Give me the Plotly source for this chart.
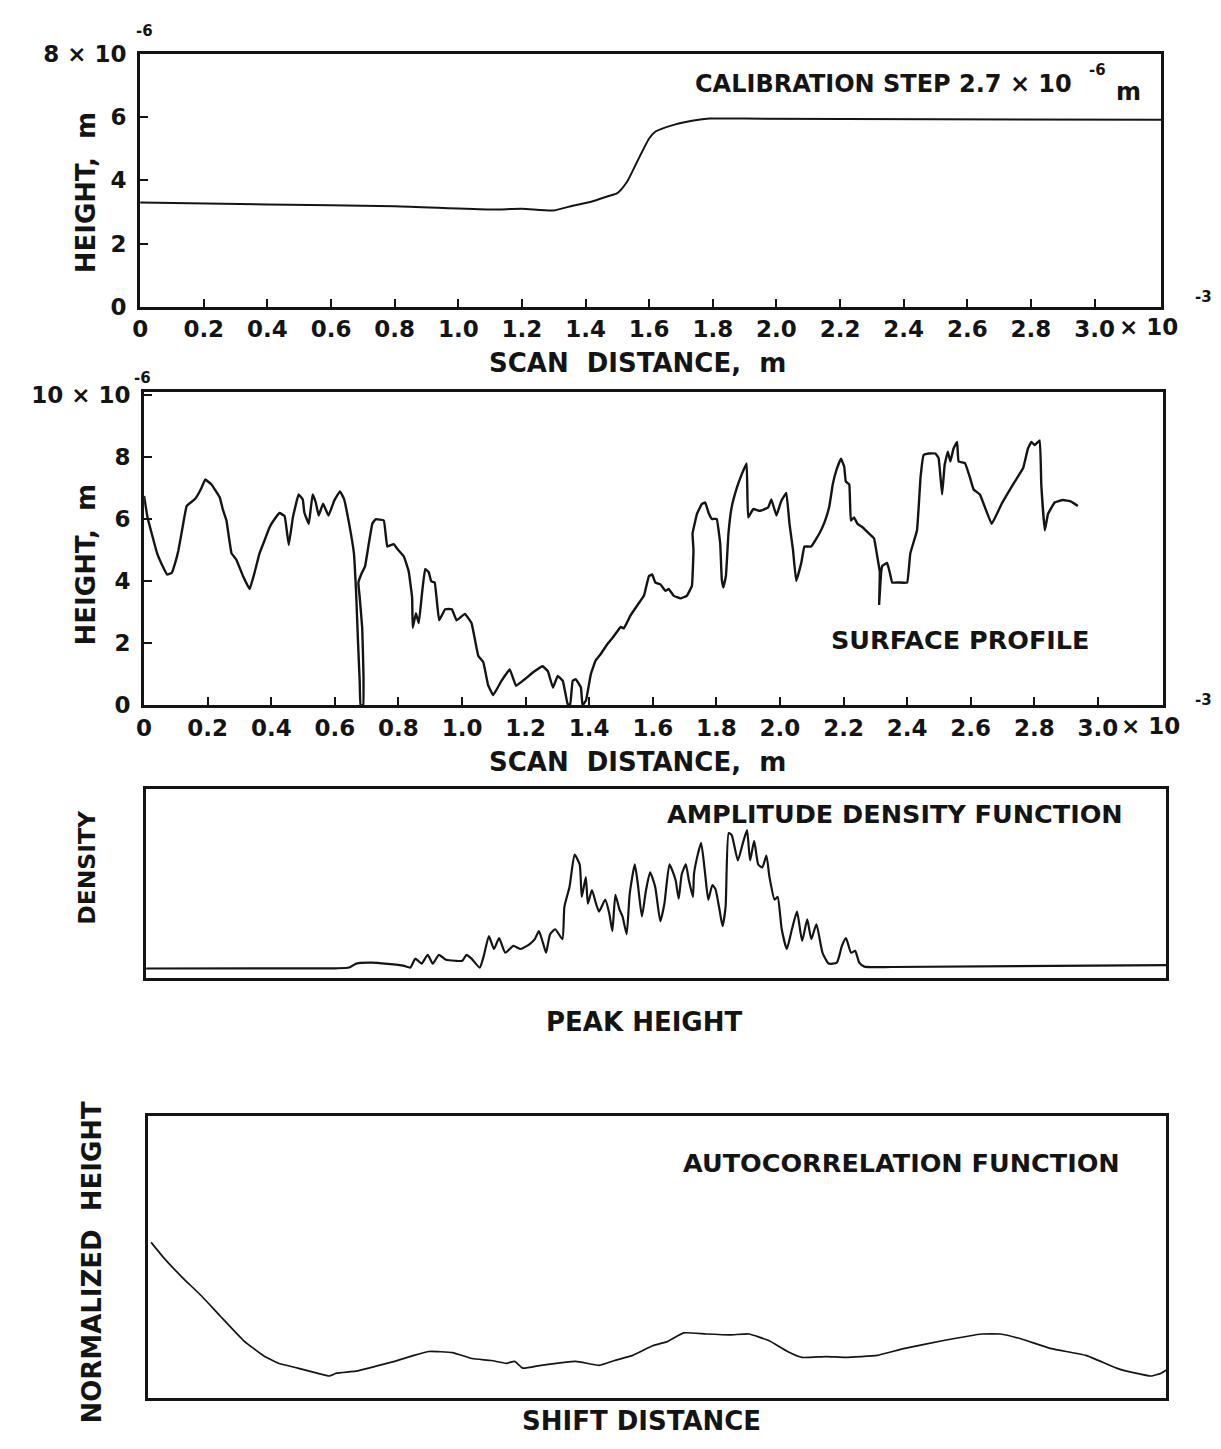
import plotly.graph_objects as go

# ---------------------------------------------------------------------------
# Data
# ---------------------------------------------------------------------------
# Calibration trace: scan distance (x 1e-3 m) vs height (x 1e-6 m)
cal_x = [0.00, 0.40, 0.80, 1.10, 1.20, 1.30, 1.36, 1.42, 1.47, 1.50, 1.53,
         1.56, 1.60, 1.62, 1.68, 1.74, 1.79, 1.90, 2.50, 3.21]
cal_h = [3.30, 3.24, 3.18, 3.08, 3.10, 3.05, 3.20, 3.33, 3.50, 3.60, 3.95,
         4.55, 5.33, 5.55, 5.77, 5.90, 5.96, 5.96, 5.94, 5.92]

# Surface profile: scan distance (x 1e-3 m) vs height (x 1e-6 m)
prof_x = [0.000, 0.010, 0.025, 0.041, 0.060, 0.072, 0.087, 0.098, 0.108, 0.122,
          0.134, 0.160, 0.180, 0.192, 0.212, 0.238, 0.248, 0.259, 0.275, 0.290,
          0.311, 0.332, 0.348, 0.363, 0.380, 0.395, 0.410, 0.426, 0.442, 0.455,
          0.468, 0.486, 0.499, 0.504, 0.518, 0.530, 0.540, 0.549, 0.563, 0.580,
          0.598, 0.616, 0.629, 0.645, 0.660, 0.667, 0.673, 0.678, 0.681, 0.689,
          0.690, 0.686, 0.678, 0.674, 0.684, 0.695, 0.705, 0.718, 0.728, 0.754,
          0.765, 0.785, 0.796, 0.817, 0.832, 0.843, 0.845, 0.855, 0.864, 0.874,
          0.884, 0.895, 0.903, 0.914, 0.928, 0.947, 0.968, 0.983, 1.009, 1.030,
          1.051, 1.067, 1.082, 1.098, 1.124, 1.150, 1.170, 1.197, 1.228, 1.254,
          1.270, 1.286, 1.301, 1.317, 1.332, 1.340, 1.348, 1.358, 1.374, 1.379,
          1.390, 1.405, 1.420, 1.436, 1.457, 1.473, 1.488, 1.499, 1.509, 1.530,
          1.551, 1.572, 1.588, 1.598, 1.608, 1.624, 1.640, 1.650, 1.666, 1.687,
          1.707, 1.723, 1.728, 1.725, 1.739, 1.754, 1.765, 1.775, 1.786, 1.801,
          1.812, 1.817, 1.822, 1.830, 1.838, 1.848, 1.864, 1.879, 1.895, 1.900,
          1.916, 1.937, 1.963, 1.973, 1.989, 2.004, 2.020, 2.030, 2.041, 2.051,
          2.067, 2.077, 2.098, 2.124, 2.140, 2.155, 2.166, 2.178, 2.192, 2.202,
          2.207, 2.218, 2.223, 2.233, 2.244, 2.259, 2.275, 2.296, 2.306, 2.314,
          2.312, 2.318, 2.322, 2.337, 2.345, 2.353, 2.374, 2.400, 2.410, 2.431,
          2.437, 2.442, 2.452, 2.468, 2.489, 2.499, 2.510, 2.518, 2.528, 2.536,
          2.546, 2.557, 2.562, 2.582, 2.598, 2.609, 2.629, 2.666, 2.697, 2.739,
          2.765, 2.780, 2.791, 2.801, 2.817, 2.822, 2.833, 2.843, 2.864, 2.890,
          2.916, 2.937]
prof_h = [6.75, 6.10, 5.50, 4.90, 4.45, 4.22, 4.27, 4.60, 5.00, 5.80,
          6.43, 6.65, 7.00, 7.28, 7.12, 6.70, 6.30, 5.96, 4.90, 4.70,
          4.17, 3.75, 4.30, 4.90, 5.35, 5.75, 6.00, 6.20, 6.10, 5.17,
          6.06, 6.80, 6.64, 6.22, 5.85, 6.80, 6.54, 6.12, 6.50, 6.12,
          6.60, 6.90, 6.65, 5.85, 4.90, 3.60, 2.00, 0.80, 0.00, 0.00,
          1.00, 2.50, 3.50, 3.95, 4.25, 4.48, 5.10, 5.86, 6.00, 5.96,
          5.12, 5.20, 5.05, 4.80, 4.33, 3.48, 2.50, 2.97, 2.65, 3.60,
          4.39, 4.30, 4.00, 3.96, 2.74, 3.10, 3.10, 2.74, 2.95, 2.65,
          1.60, 1.39, 0.65, 0.33, 0.79, 1.16, 0.63, 0.84, 1.10, 1.26,
          1.10, 0.57, 0.95, 0.79, 0.05, 0.00, 0.79, 0.84, 0.57, 0.00,
          0.16, 1.00, 1.44, 1.65, 1.97, 2.17, 2.38, 2.53, 2.48, 2.90,
          3.22, 3.53, 4.17, 4.22, 3.96, 3.90, 3.69, 3.75, 3.53, 3.45,
          3.53, 3.85, 5.01, 5.54, 6.17, 6.49, 6.54, 6.22, 6.01, 6.01,
          5.22, 4.06, 3.80, 4.17, 5.54, 6.38, 7.00, 7.43, 7.80, 6.06,
          6.33, 6.27, 6.38, 6.64, 6.12, 6.59, 6.85, 5.85, 5.01, 4.01,
          4.59, 5.12, 5.12, 5.54, 5.90, 6.40, 7.12, 7.60, 7.95, 7.70,
          7.22, 7.12, 5.96, 6.06, 5.85, 5.75, 5.59, 5.38, 4.80, 4.30,
          3.27, 4.27, 4.50, 4.59, 4.30, 3.96, 3.96, 3.96, 4.90, 5.64,
          6.50, 7.33, 8.07, 8.12, 8.12, 7.97, 6.80, 7.75, 8.18, 7.86,
          8.28, 8.49, 7.86, 7.81, 7.33, 6.96, 6.80, 5.85, 6.49, 7.22,
          7.65, 8.28, 8.49, 8.39, 8.54, 7.12, 5.64, 6.17, 6.54, 6.62,
          6.57, 6.43]

# Amplitude density: peak height (% of range) vs relative density
dens_h = [0.0, 18.6, 19.9, 20.6, 22.1, 25.2, 25.9, 26.4, 27.0, 27.6,
          28.1, 28.7, 29.4, 30.3, 31.0, 31.4, 31.9, 32.7, 33.1, 33.6,
          34.1, 34.6, 35.2, 36.0, 36.7, 37.6, 38.1, 38.5, 38.9, 39.2,
          39.6, 40.1, 40.8, 41.0, 41.5, 42.0, 42.5, 42.7, 43.1, 43.3,
          43.7, 44.1, 44.4, 45.0, 45.4, 45.7, 46.0, 46.4, 46.7, 47.1,
          47.4, 47.9, 48.2, 48.6, 49.0, 49.4, 49.9, 50.4, 50.8, 51.3,
          51.9, 52.2, 52.5, 52.9, 53.2, 53.6, 53.7, 54.0, 54.4, 54.8,
          55.1, 55.5, 55.8, 56.2, 56.5, 56.8, 57.1, 57.4, 58.0, 58.5,
          58.9, 59.2, 59.6, 60.0, 60.4, 60.8, 61.1, 61.6, 61.9, 62.3,
          62.8, 63.3, 63.8, 64.3, 64.8, 65.2, 65.7, 66.3, 66.9, 67.7,
          68.2, 68.6, 69.1, 69.5, 69.9, 70.4, 73.1, 100.0]
dens_v = [0.052, 0.053, 0.057, 0.078, 0.083, 0.067, 0.057, 0.104, 0.078, 0.124,
          0.078, 0.124, 0.098, 0.093, 0.093, 0.124, 0.104, 0.057, 0.119, 0.223,
          0.155, 0.212, 0.135, 0.171, 0.155, 0.181, 0.207, 0.249, 0.187, 0.135,
          0.233, 0.259, 0.207, 0.378, 0.482, 0.653, 0.601, 0.430, 0.534, 0.394,
          0.466, 0.394, 0.352, 0.415, 0.342, 0.249, 0.440, 0.363, 0.326, 0.233,
          0.446, 0.601, 0.497, 0.326, 0.466, 0.560, 0.482, 0.301, 0.394, 0.601,
          0.518, 0.420, 0.549, 0.601, 0.518, 0.430, 0.549, 0.637, 0.715, 0.549,
          0.415, 0.492, 0.472, 0.363, 0.275, 0.378, 0.767, 0.756, 0.622, 0.715,
          0.782, 0.622, 0.725, 0.601, 0.585, 0.648, 0.534, 0.415, 0.430, 0.259,
          0.155, 0.259, 0.352, 0.197, 0.311, 0.207, 0.285, 0.135, 0.078, 0.083,
          0.171, 0.212, 0.135, 0.145, 0.083, 0.062, 0.060, 0.070]

# Autocorrelation: shift distance (fraction of record) vs normalized height
acf_s = [0.003, 0.015, 0.033, 0.053, 0.071, 0.094, 0.113, 0.128, 0.147, 0.166,
         0.178, 0.185, 0.204, 0.223, 0.242, 0.261, 0.276, 0.299, 0.318, 0.337,
         0.352, 0.360, 0.368, 0.386, 0.420, 0.443, 0.458, 0.476, 0.496, 0.510,
         0.526, 0.548, 0.572, 0.590, 0.610, 0.628, 0.642, 0.666, 0.685, 0.716,
         0.742, 0.780, 0.819, 0.837, 0.857, 0.887, 0.921, 0.951, 0.970, 0.985,
         0.995, 1.000]
acf_v = [0.551, 0.498, 0.429, 0.359, 0.289, 0.202, 0.150, 0.122, 0.105, 0.087,
         0.077, 0.087, 0.094, 0.111, 0.129, 0.150, 0.164, 0.160, 0.139, 0.132,
         0.122, 0.129, 0.105, 0.115, 0.129, 0.115, 0.132, 0.150, 0.185, 0.199,
         0.230, 0.226, 0.223, 0.226, 0.202, 0.164, 0.143, 0.146, 0.143, 0.150,
         0.174, 0.202, 0.226, 0.226, 0.209, 0.174, 0.150, 0.105, 0.087, 0.077,
         0.087, 0.098]

dist_ticks = [0.0, 0.2, 0.4, 0.6, 0.8, 1.0, 1.2, 1.4, 1.6, 1.8, 2.0, 2.2,
              2.4, 2.6, 2.8, 3.0]
dist_labels = ["0", "0.2", "0.4", "0.6", "0.8", "1.0", "1.2", "1.4", "1.6",
               "1.8", "2.0", "2.2", "2.4", "2.6", "2.8", "3.0"]
cal_ticks = [0, 2, 4, 6, 8]
cal_labels = ["0", "2", "4", "6", "8 \u00d7 10"]
prof_ticks = [0, 2, 4, 6, 8, 10]
prof_labels = ["0", "2", "4", "6", "8", "10 \u00d7 10"]

# ---------------------------------------------------------------------------
# Layout helpers (page is 1221 x 1449 px, positions given in px)
# ---------------------------------------------------------------------------
W, H = 1221, 1449
FAMILY = "DejaVu Sans"
INK = "#141414"


def fx(p):
    return p / W


def fy(p):
    return 1 - p / H


def font(size):
    return dict(family=FAMILY, size=size, color=INK, weight="bold")


frame = dict(showline=True, linewidth=3, linecolor=INK, mirror=True,
             showgrid=False, zeroline=False, fixedrange=True)

fig = go.Figure()
fig.add_trace(go.Scatter(x=cal_x, y=cal_h, mode="lines",
                         line=dict(color=INK, width=2, shape="spline",
                                   smoothing=0.6),
                         xaxis="x", yaxis="y", hoverinfo="skip"))
fig.add_trace(go.Scatter(x=prof_x, y=prof_h, mode="lines",
                         line=dict(color=INK, width=2.4, shape="spline",
                                   smoothing=0.25),
                         xaxis="x2", yaxis="y2", hoverinfo="skip"))
fig.add_trace(go.Scatter(x=dens_h, y=dens_v, mode="lines",
                         line=dict(color=INK, width=2.2, shape="spline",
                                   smoothing=0.5),
                         xaxis="x3", yaxis="y3", hoverinfo="skip"))
fig.add_trace(go.Scatter(x=acf_s, y=acf_v, mode="lines",
                         line=dict(color=INK, width=1.7, shape="spline",
                                   smoothing=0.4),
                         xaxis="x4", yaxis="y4", hoverinfo="skip"))

tick_common = dict(ticks="inside", ticklen=8, tickwidth=2, tickcolor=INK,
                   tickfont=font(23))

fig.update_layout(
    width=W, height=H,
    margin=dict(l=0, r=0, t=0, b=0),
    paper_bgcolor="white", plot_bgcolor="white",
    showlegend=False,
    xaxis=dict(domain=[fx(133), fx(1161)], anchor="y", range=[0, 3.21],
               tickmode="array", tickvals=dist_ticks, ticktext=dist_labels,
               ticklabelstandoff=0, **tick_common, **frame),
    yaxis=dict(domain=[fy(299), fy(42)], anchor="x", range=[0, 8],
               tickmode="array", tickvals=cal_ticks, ticktext=cal_labels,
               ticklabelstandoff=6, **tick_common, **frame),
    xaxis2=dict(domain=[fx(137), fx(1163)], anchor="y2", range=[0, 3.206],
                tickmode="array", tickvals=dist_ticks, ticktext=dist_labels,
                ticklabelstandoff=0, **tick_common, **frame),
    yaxis2=dict(domain=[fy(705), fy(386)], anchor="x2", range=[0, 10.1],
                tickmode="array", tickvals=prof_ticks, ticktext=prof_labels,
                ticklabelstandoff=6, **tick_common, **frame),
    xaxis3=dict(domain=[fx(139), fx(1166)], anchor="y3", range=[0, 100],
                showticklabels=False, ticks="", **frame),
    yaxis3=dict(domain=[fy(983), fy(790)], anchor="x3", range=[0, 1],
                showticklabels=False, ticks="", **frame),
    xaxis4=dict(domain=[fx(141), fx(1166)], anchor="y4", range=[0, 1],
                showticklabels=False, ticks="", **frame),
    yaxis4=dict(domain=[fy(1410), fy(1123)], anchor="x4", range=[0, 1],
                showticklabels=False, ticks="", **frame),
)


def label(text, x, y, size=26, xanchor="center", yanchor="middle", angle=0):
    fig.add_annotation(text=text, x=fx(x), y=fy(y), xref="paper", yref="paper",
                       xanchor=xanchor, yanchor=yanchor, textangle=angle,
                       showarrow=False, font=font(size))


NB = "\u00a0"

# Exponent markers on the axis scales
label("-6", 137, 18, size=15)
label("\u00d7 10", 1116, 320, size=23, xanchor="left")
label("-3", 1203, 289, size=15)
label("-6", 135, 372, size=15)
label("\u00d7 10", 1118, 726, size=23, xanchor="left")
label("-3", 1203, 700, size=15)

# Axis titles
label("HEIGHT," + NB + NB + "m", 78, 183, angle=-90)
label("HEIGHT," + NB + NB + "m", 78, 562, angle=-90)
label("DENSITY", 80, 870, size=23.5, angle=-90)
label("NORMALIZED" + NB + NB + "HEIGHT", 85, 1272, angle=-90)
label("SCAN" + NB + NB + "DISTANCE," + NB + NB + "m", 634, 356)
label("SCAN" + NB + NB + "DISTANCE," + NB + NB + "m", 634, 763)
label("PEAK HEIGHT", 640, 1027)
label("SHIFT" + NB + "DISTANCE", 638, 1434)

# Panel captions
label("CALIBRATION STEP 2.7 \u00d7 10", 1073, 72, size=24, xanchor="right")
label("-6", 1097, 58, size=15)
label("m", 1128, 80, size=24)
label("SURFACE PROFILE", 959, 638, size=25.5)
label("AMPLITUDE DENSITY FUNCTION", 893, 816, size=25.5)
label("AUTOCORRELATION FUNCTION", 899, 1171, size=25.5)

fig.write_html("out.html")
